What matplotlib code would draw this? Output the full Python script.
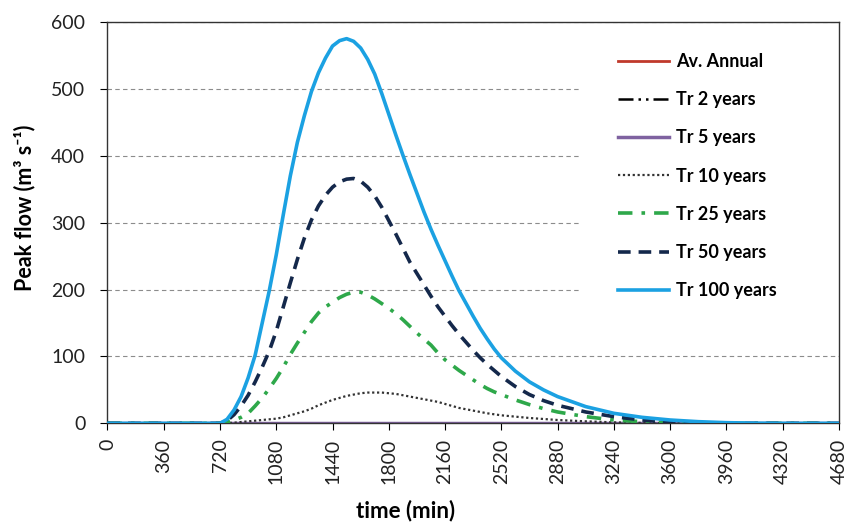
import matplotlib
matplotlib.use('Agg')
import matplotlib.pyplot as plt
from matplotlib.patches import Rectangle

plt.rcParams['font.family'] = ['Lato', 'DejaVu Sans']

# hydrograph values (time in min, flow in m3/s)
time = [0, 720, 765, 810, 855, 900, 945, 990, 1035, 1080, 1125, 1170, 1215,
        1260, 1305, 1350, 1395, 1440, 1485, 1530, 1575, 1620, 1665, 1710, 1755,
        1800, 1845, 1890, 1935, 1980, 2025, 2070, 2115, 2160, 2205, 2250, 2295,
        2340, 2385, 2430, 2475, 2520, 2610, 2700, 2790, 2880, 3060, 3240, 3420,
        3600, 3780, 3960, 4140, 4320, 4680]
av_annual = [0] * len(time)
tr2 = [0] * len(time)
tr5 = [0] * len(time)
tr10 = [0, 0, 0.5, 1, 2, 3, 4, 5, 6, 7, 9, 12, 15,
        18, 22, 27, 31, 35, 38, 41, 43, 45, 46, 46, 46,
        45, 44, 42, 40, 38, 36, 34, 32, 29, 26, 23, 21,
        19, 17, 15, 13.5, 12, 10, 8, 6.5, 5, 3, 1.5, 0.7,
        0.3, 0, 0, 0, 0, 0]
tr25 = [0, 0, 2, 5, 9, 15, 26, 38, 52, 67, 84, 103, 120,
        136, 152, 165, 174, 181, 188, 193, 196, 196, 192, 186, 179,
        172, 164, 155, 145, 135, 126, 117, 105, 95, 87, 79, 72,
        65, 58, 52, 47, 43, 35, 28, 22, 17, 10, 5, 2.5,
        1, 0.3, 0, 0, 0, 0]
tr50 = [0, 0, 4, 13, 26, 42, 62, 84, 108, 138, 174, 210, 245,
        277, 304, 325, 341, 353, 361, 365, 366, 362, 353, 340, 323,
        303, 283, 262, 241, 224, 207, 190, 174, 160, 146, 133, 121,
        109, 98, 88, 79, 70, 55, 43, 34, 27, 17, 10, 5,
        2, 1, 0.3, 0, 0, 0]
tr100 = [0, 0, 6, 20, 40, 68, 102, 150, 198, 252, 312, 370, 420,
         460, 496, 524, 546, 564, 572, 575, 571, 561, 544, 522, 493,
         462, 431, 401, 372, 344, 316, 290, 266, 243, 220, 198, 179,
         160, 142, 126, 111, 98, 78, 62, 50, 40, 25, 15, 9,
         5, 2.5, 1, 0.3, 0, 0]

xticks = list(range(0, 4681, 360))
yticks = list(range(0, 601, 100))

fig = plt.figure(figsize=(8.49, 5.22), dpi=100)
ax = fig.add_axes([0.1266, 0.189, 0.8615, 0.769])

ax.plot(time, av_annual, color='#c0392b', lw=2, label='Av. Annual', zorder=2)
ax.plot(time, tr2, color='black', lw=1.8, dashes=(6, 2, 1, 2, 1, 2), label='Tr 2 years', zorder=2)
ax.plot(time, tr5, color='#7f62a0', lw=2.5, label='Tr 5 years', zorder=2)
ax.plot(time, tr10, color='#333333', lw=1.6, dashes=(1, 1.2), label='Tr 10 years', zorder=3)
ax.plot(time, tr25, color='#2ea84a', lw=2.6, dashes=(4, 2.5, 1, 2.5), label='Tr 25 years', zorder=4)
ax.plot(time, tr50, color='#14284b', lw=2.6, dashes=(3.5, 2.2), label='Tr 50 years', zorder=5)
ax.plot(time, tr100, color='#1ba1e2', lw=2.6, label='Tr 100 years', zorder=6)

ax.set_xlim(0, 4680)
ax.set_ylim(0, 600)
ax.set_xticks(xticks)
ax.set_yticks(yticks)
ax.tick_params(axis='x', rotation=90, labelsize=14, length=5, pad=6)
ax.tick_params(axis='y', labelsize=14, length=5, pad=11)
ax.tick_params(colors='black', labelcolor='#222222')

ax.set_axisbelow(True)
ax.yaxis.grid(True, color='#8c8c8c', lw=0.8, dashes=(4, 3))
for s in ax.spines.values():
    s.set_color('#333333')
    s.set_linewidth(1.0)

# white area behind the legend hides the gridlines there
ax.add_patch(Rectangle((0.646, 0.26), 0.354, 0.735, transform=ax.transAxes,
                       facecolor='white', edgecolor='none', zorder=1))

ax.set_xlabel('time (min)', fontsize=16, fontweight='bold')
ax.set_ylabel('Peak flow (m³ s⁻¹)', fontsize=15.5, fontweight='bold')
ax.xaxis.set_label_coords(0.407, -0.191)
ax.yaxis.set_label_coords(-0.099, 0.536)

leg = ax.legend(loc='upper left', bbox_to_anchor=(0.676, 0.9625), frameon=False,
                prop={'weight': 'bold', 'size': 13}, handlelength=2.8,
                handletextpad=0.4, labelspacing=1.17)

fig.savefig('out.png', dpi=100)
